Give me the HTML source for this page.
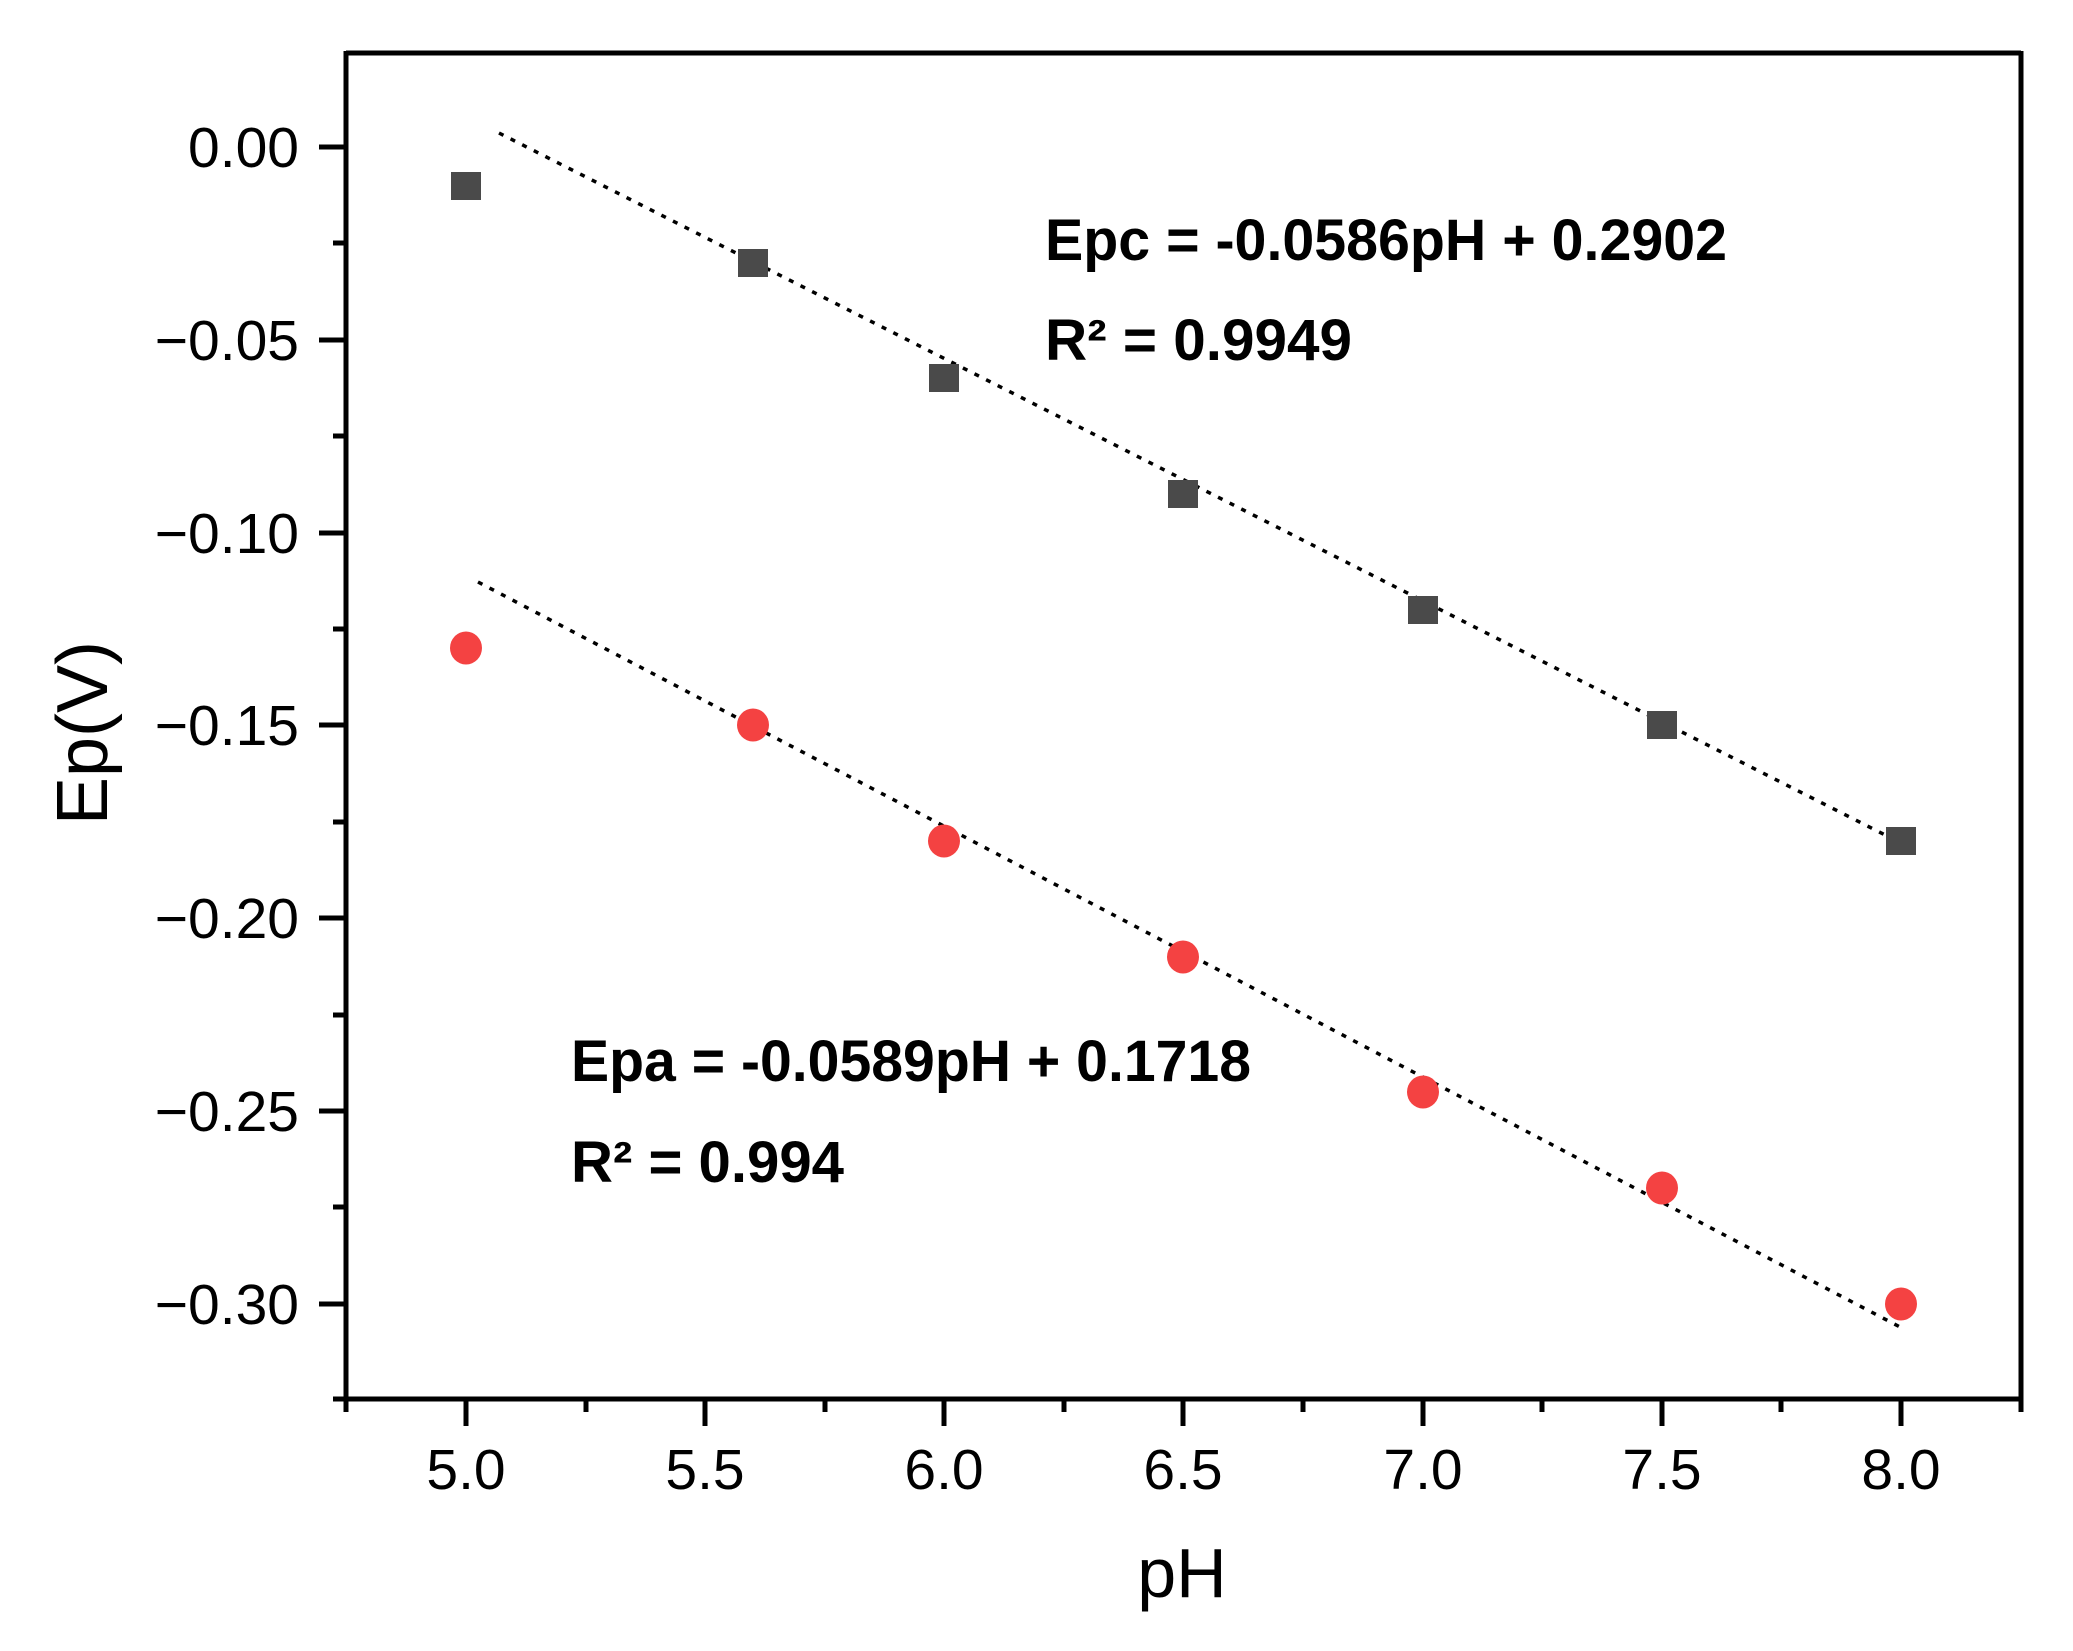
<!DOCTYPE html>
<html><head><meta charset="utf-8"><style>html,body{margin:0;padding:0;background:#fff}svg{display:block}</style></head>
<body>
<svg width="2073" height="1651" viewBox="0 0 2073 1651" xmlns="http://www.w3.org/2000/svg">
<rect width="2073" height="1651" fill="#fff"/>
<g stroke="#000" stroke-width="5" fill="none">
<line x1="346" y1="53" x2="2021" y2="53"/>
<line x1="2021" y1="51" x2="2021" y2="1412"/>
<line x1="346" y1="51" x2="346" y2="1412"/>
<line x1="333" y1="1399" x2="2021" y2="1399"/>
</g>
<g stroke="#000" stroke-width="5">
<line x1="466" y1="1399" x2="466" y2="1426"/><line x1="705" y1="1399" x2="705" y2="1426"/>
<line x1="944" y1="1399" x2="944" y2="1426"/><line x1="1183" y1="1399" x2="1183" y2="1426"/>
<line x1="1423" y1="1399" x2="1423" y2="1426"/><line x1="1662" y1="1399" x2="1662" y2="1426"/>
<line x1="1901" y1="1399" x2="1901" y2="1426"/>
<line x1="586" y1="1399" x2="586" y2="1412"/><line x1="825" y1="1399" x2="825" y2="1412"/>
<line x1="1064" y1="1399" x2="1064" y2="1412"/><line x1="1303" y1="1399" x2="1303" y2="1412"/>
<line x1="1542" y1="1399" x2="1542" y2="1412"/><line x1="1781" y1="1399" x2="1781" y2="1412"/>
<line x1="319" y1="147" x2="346" y2="147"/><line x1="319" y1="340" x2="346" y2="340"/>
<line x1="319" y1="533" x2="346" y2="533"/><line x1="319" y1="725" x2="346" y2="725"/>
<line x1="319" y1="918" x2="346" y2="918"/><line x1="319" y1="1111" x2="346" y2="1111"/>
<line x1="319" y1="1304" x2="346" y2="1304"/>
<line x1="333" y1="243" x2="346" y2="243"/><line x1="333" y1="436" x2="346" y2="436"/>
<line x1="333" y1="629" x2="346" y2="629"/><line x1="333" y1="822" x2="346" y2="822"/>
<line x1="333" y1="1015" x2="346" y2="1015"/><line x1="333" y1="1207" x2="346" y2="1207"/>
</g>
<g font-family="Liberation Sans, sans-serif" font-size="57" fill="#000" text-anchor="end">
<text x="299" y="167">0.00</text>
<text x="299" y="360">−0.05</text>
<text x="299" y="553">−0.10</text>
<text x="299" y="745">−0.15</text>
<text x="299" y="938">−0.20</text>
<text x="299" y="1131">−0.25</text>
<text x="299" y="1324">−0.30</text>
</g>
<g font-family="Liberation Sans, sans-serif" font-size="57" fill="#000" text-anchor="middle">
<text x="466" y="1489">5.0</text><text x="705" y="1489">5.5</text>
<text x="944" y="1489">6.0</text><text x="1183" y="1489">6.5</text>
<text x="1423" y="1489">7.0</text><text x="1662" y="1489">7.5</text>
<text x="1901" y="1489">8.0</text>
</g>
<text x="1182" y="1597" font-family="Liberation Sans, sans-serif" font-size="70" text-anchor="middle">pH</text>
<text transform="translate(107,733) rotate(-90)" font-family="Liberation Sans, sans-serif" font-size="72" text-anchor="middle">Ep(V)</text>
<g stroke="#000" stroke-width="3.5" stroke-dasharray="5,8">
<line x1="499" y1="133" x2="1901" y2="843"/>
<line x1="478" y1="582" x2="1900" y2="1327"/>
</g>
<g fill="#4a4a4a">
<rect x="451" y="172" width="30" height="28"/>
<rect x="738" y="249" width="30" height="28"/>
<rect x="929" y="364" width="30" height="28"/>
<rect x="1168" y="480" width="30" height="28"/>
<rect x="1408" y="596" width="30" height="28"/>
<rect x="1647" y="711" width="30" height="28"/>
<rect x="1886" y="827" width="30" height="28"/>
</g>
<g fill="#f44242">
<ellipse cx="466" cy="648" rx="16" ry="16.5"/>
<ellipse cx="753" cy="725" rx="16" ry="16.5"/>
<ellipse cx="944" cy="841" rx="16" ry="16.5"/>
<ellipse cx="1183" cy="957" rx="16" ry="16.5"/>
<ellipse cx="1423" cy="1092" rx="16" ry="16.5"/>
<ellipse cx="1662" cy="1188" rx="16" ry="16.5"/>
<ellipse cx="1901" cy="1304" rx="16" ry="16.5"/>
</g>
<g font-family="Liberation Sans, sans-serif" font-size="58" font-weight="bold" fill="#000">
<text x="1045" y="260" textLength="682" lengthAdjust="spacingAndGlyphs">Epc = -0.0586pH + 0.2902</text>
<text x="1045" y="360" textLength="307" lengthAdjust="spacingAndGlyphs">R² = 0.9949</text>
<text x="571" y="1081" textLength="680" lengthAdjust="spacingAndGlyphs">Epa = -0.0589pH + 0.1718</text>
<text x="571" y="1182" textLength="273" lengthAdjust="spacingAndGlyphs">R² = 0.994</text>
</g>
</svg>
</body></html>
